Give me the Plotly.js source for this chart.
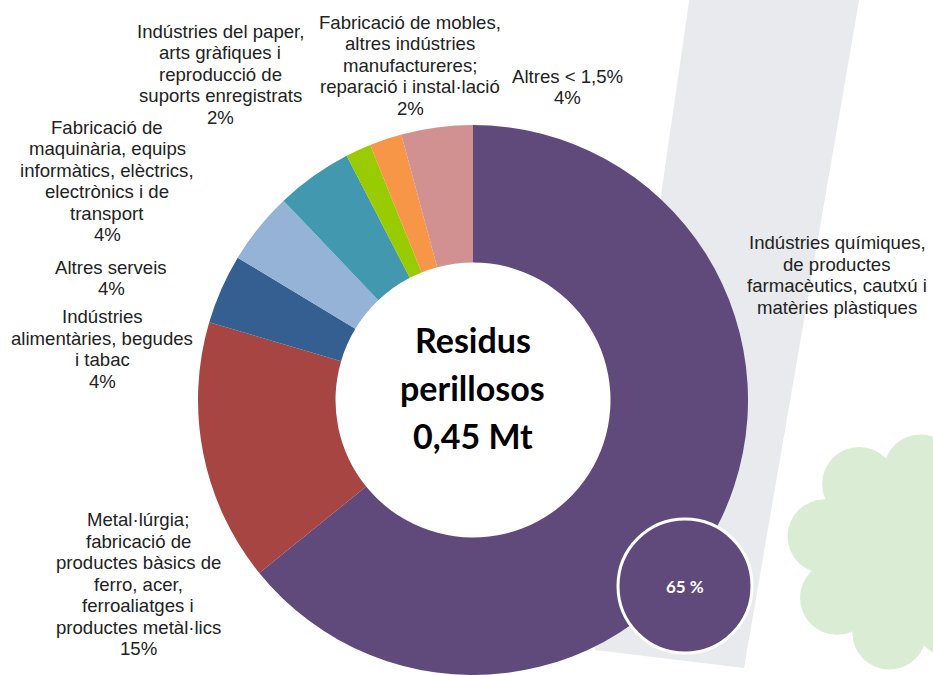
<!DOCTYPE html>
<html>
<head>
<meta charset="utf-8">
<script src="https://cdn.plot.ly/plotly-3.0.1.min.js"></script>
<style>
  html, body { margin: 0; padding: 0; background: #ffffff; overflow: hidden; }
  #chart { width: 933px; height: 675px; }
</style>
</head>
<body>
<div id="chart"></div>
<script>
// ---- Data ----
const categories = [
  "Indústries químiques, de productes farmacèutics, cautxú i matèries plàstiques",
  "Metal·lúrgia; fabricació de productes bàsics de ferro, acer, ferroaliatges i productes metàl·lics",
  "Indústries alimentàries, begudes i tabac",
  "Altres serveis",
  "Fabricació de maquinària, equips informàtics, elèctrics, electrònics i de transport",
  "Indústries del paper, arts gràfiques i reproducció de suports enregistrats",
  "Fabricació de mobles, altres indústries manufactureres; reparació i instal·lació",
  "Altres < 1,5%"
];
const shares = [64.2, 15.4, 4.1, 4.25, 4.5, 1.5, 1.9, 4.2];
const pctLabels = ["", "15%", "4%", "4%", "4%", "2%", "2%", "4%"];
const labelLines = [
  ["Indústries químiques,", "de productes", "farmacèutics, cautxú i", "matèries plàstiques"],
  ["Metal·lúrgia;", "fabricació de", "productes bàsics de", "ferro, acer,", "ferroaliatges i", "productes metàl·lics"],
  ["Indústries", "alimentàries, begudes", "i tabac"],
  ["Altres serveis"],
  ["Fabricació de", "maquinària, equips", "informàtics, elèctrics,", "electrònics i de", "transport"],
  ["Indústries del paper,", "arts gràfiques i", "reproducció de", "suports enregistrats"],
  ["Fabricació de mobles,", "altres indústries", "manufactureres;", "reparació i instal·lació"],
  ["Altres < 1,5%"]
];
const colors = ["#604A7B", "#A64542", "#365F91", "#95B3D7", "#4298AF", "#99CC00", "#F79646", "#D19191"];
const centerLines = ["Residus", "perillosos", "0,45 Mt"];
const highlightLabel = "65 %";

// ---- Layout helpers (pixel -> paper) ----
const W = 933, H = 675;
const px = x => x / W;
const py = y => 1 - y / H;

// label block centres (layout only)
const labelPos = [
  [837, 275], [138, 584], [102, 349], [111, 278],
  [107, 181], [220, 74], [410, 65], [567, 87]
];
const lineStep = 21.5;

const annotations = [];
labelLines.forEach((lines, i) => {
  const all = pctLabels[i] ? lines.concat([pctLabels[i]]) : lines;
  const n = all.length;
  all.forEach((t, k) => {
    annotations.push({
      xref: "paper", yref: "paper",
      x: px(labelPos[i][0]), y: py(labelPos[i][1] + (k - (n - 1) / 2) * lineStep),
      xanchor: "center", yanchor: "middle",
      text: t, showarrow: false, align: "center",
      font: { family: "Liberation Sans, Arial, sans-serif", size: 18.6, color: "#222222" }
    });
  });
});
const centerY = [340, 387, 435];
centerLines.forEach((t, i) => {
  annotations.push({
    xref: "paper", yref: "paper", x: px(473), y: py(centerY[i]),
    xanchor: "center", yanchor: "middle", showarrow: false,
    text: "<b>" + t + "</b>",
    font: { family: "Lato, 'Open Sans', sans-serif", size: 34, color: "#000000" }
  });
});
annotations.push({
  xref: "paper", yref: "paper", x: px(685), y: py(586),
  xanchor: "center", yanchor: "middle", showarrow: false,
  text: "<b>" + highlightLabel + "</b>",
  font: { family: "Lato, 'Open Sans', sans-serif", size: 17, color: "#ffffff" }
});

// decorative background shapes
const shapes = [];
shapes.push({
  type: "path", layer: "below", xref: "paper", yref: "paper",
  path: "M " + px(690) + " " + py(-5) + " L " + px(860) + " " + py(-5) +
        " L " + px(744) + " " + py(668) + " L " + px(595) + " " + py(650) + " Z",
  fillcolor: "#E8EAED", line: { width: 0 }
});
const cloudC = [905, 552], cloudR = 82, lobeDist = 82, lobeR = 37;
const cloudCol = "#DAECD4";
const circ = (cx, cy, r, layer, fill, line) => ({
  type: "circle", layer: layer, xref: "paper", yref: "paper",
  x0: px(cx - r), x1: px(cx + r), y0: py(cy + r), y1: py(cy - r),
  fillcolor: fill, line: line
});
shapes.push(circ(cloudC[0], cloudC[1], cloudR, "below", cloudCol, { width: 0 }));
[101, 146, 191, 236, 281, 326, 11, 56].forEach(a => {
  const r = a * Math.PI / 180;
  shapes.push(circ(cloudC[0] + lobeDist * Math.cos(r), cloudC[1] + lobeDist * Math.sin(r),
                   lobeR, "below", cloudCol, { width: 0 }));
});
shapes.push(circ(685, 586, 67, "above", "#604A7B", { color: "#ffffff", width: 3 }));

const data = [{
  type: "pie",
  labels: categories,
  values: shares,
  marker: { colors: colors, line: { width: 0 } },
  hole: 0.5,
  sort: false,
  direction: "clockwise",
  rotation: 0,
  textinfo: "none",
  hoverinfo: "none",
  domain: { x: [px(198), px(748)], y: [0, py(125)] }
}];

const layout = {
  width: W, height: H,
  margin: { l: 0, r: 0, t: 0, b: 0 },
  paper_bgcolor: "#ffffff",
  showlegend: false,
  annotations: annotations,
  shapes: shapes
};

Plotly.newPlot("chart", data, layout, { displayModeBar: false, staticPlot: true });
</script>
</body>
</html>
